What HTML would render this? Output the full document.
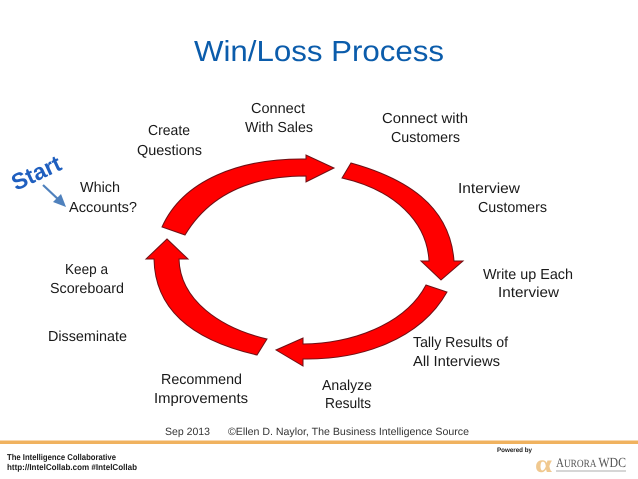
<!DOCTYPE html>
<html><head><meta charset="utf-8"><style>
html,body{margin:0;padding:0;background:#fff;width:638px;height:479px;overflow:hidden}
svg{display:block}
text{font-family:"Liberation Sans",sans-serif;fill:#1a1a1a;text-rendering:geometricPrecision}
.t{font-size:14.5px}
</style></head><body>
<svg width="638" height="479" viewBox="0 0 638 479" xmlns="http://www.w3.org/2000/svg">
<text x="194" y="61" font-size="29" textLength="250" lengthAdjust="spacingAndGlyphs" style="fill:#0b5cab">Win/Loss Process</text>
<g fill="#ff0000" stroke="#6e0f14" stroke-width="1" stroke-linejoin="miter">
<path d="M162 227C183 180 240 158 306 159L306 155L334 168L306 182L306 176C258 176 212 190 185 235Z"/>
<path d="M351 163C405 178 450 205 454 261L463 261L441 280L421 261L429 261C427 222 395 190 342 178Z"/>
<path d="M426 285L447 292C420 340 360 360 303 359L303 366L276 350L303 338L303 344C350 344 405 325 426 285Z"/>
<path d="M267 339L257 355C200 342 155 315 154 259L146 259L167 239L188 259L179 259C180 300 220 328 267 339Z"/>
</g>
<g>
<text class="t" x="251" y="113" textLength="54" lengthAdjust="spacingAndGlyphs">Connect</text>
<text class="t" x="245" y="132" textLength="68" lengthAdjust="spacingAndGlyphs">With Sales</text>
<text class="t" x="148" y="135" textLength="42" lengthAdjust="spacingAndGlyphs">Create</text>
<text class="t" x="137" y="155" textLength="65" lengthAdjust="spacingAndGlyphs">Questions</text>
<text class="t" x="382" y="123" textLength="86" lengthAdjust="spacingAndGlyphs">Connect with</text>
<text class="t" x="391" y="142" textLength="69" lengthAdjust="spacingAndGlyphs">Customers</text>
<text class="t" x="80" y="192" textLength="40" lengthAdjust="spacingAndGlyphs">Which</text>
<text class="t" x="69" y="212" textLength="68" lengthAdjust="spacingAndGlyphs">Accounts?</text>
<text class="t" x="458" y="193" textLength="62" lengthAdjust="spacingAndGlyphs">Interview</text>
<text class="t" x="478" y="212" textLength="69" lengthAdjust="spacingAndGlyphs">Customers</text>
<text class="t" x="65" y="274" textLength="43" lengthAdjust="spacingAndGlyphs">Keep a</text>
<text class="t" x="50" y="293" textLength="74" lengthAdjust="spacingAndGlyphs">Scoreboard</text>
<text class="t" x="483" y="279" textLength="90" lengthAdjust="spacingAndGlyphs">Write up Each</text>
<text class="t" x="498" y="297" textLength="61" lengthAdjust="spacingAndGlyphs">Interview</text>
<text class="t" x="48" y="341" textLength="79" lengthAdjust="spacingAndGlyphs">Disseminate</text>
<text class="t" x="413" y="347" textLength="95" lengthAdjust="spacingAndGlyphs">Tally Results of</text>
<text class="t" x="413" y="366" textLength="87" lengthAdjust="spacingAndGlyphs">All Interviews</text>
<text class="t" x="161" y="384" textLength="81" lengthAdjust="spacingAndGlyphs">Recommend</text>
<text class="t" x="154" y="403" textLength="94" lengthAdjust="spacingAndGlyphs">Improvements</text>
<text class="t" x="322" y="390" textLength="50" lengthAdjust="spacingAndGlyphs">Analyze</text>
<text class="t" x="325" y="408" textLength="46" lengthAdjust="spacingAndGlyphs">Results</text>
</g>
<text transform="translate(16 191) rotate(-25)" font-size="23" font-weight="bold" textLength="52" lengthAdjust="spacingAndGlyphs" style="fill:#1f5fbf">Start</text>
<path d="M43 185L60 201" stroke="#4f81bd" stroke-width="2.2" fill="none"/>
<path d="M66 207L53 202L61 194Z" fill="#4f81bd"/>
<text x="165" y="435" font-size="10.5" textLength="45" lengthAdjust="spacingAndGlyphs" style="fill:#333">Sep 2013</text>
<text x="228" y="435" font-size="10.5" textLength="241" lengthAdjust="spacingAndGlyphs" style="fill:#333">©Ellen D. Naylor, The Business Intelligence Source</text>
<rect x="0" y="440.5" width="638" height="3.5" fill="#f0b25f"/>
<text x="7" y="460" font-size="8.5" font-weight="bold" textLength="109" lengthAdjust="spacingAndGlyphs">The Intelligence Collaborative</text>
<text x="7" y="470" font-size="8.5" font-weight="bold" textLength="130" lengthAdjust="spacingAndGlyphs">http://IntelCollab.com #IntelCollab</text>
<text x="497" y="452" font-size="6.5" font-weight="bold" textLength="35" lengthAdjust="spacingAndGlyphs">Powered by</text>
<text x="535" y="472" font-size="25" font-weight="bold" textLength="17" lengthAdjust="spacingAndGlyphs" style="font-family:'Liberation Serif',serif;fill:#f0c88f">α</text>
<text x="556" y="467" font-size="11" textLength="70" lengthAdjust="spacingAndGlyphs" style="font-family:'Liberation Serif',serif;fill:#555"><tspan font-size="13">A</tspan>URORA <tspan font-size="14">WDC</tspan></text>
<rect x="556" y="470" width="70" height="2" fill="#d6d6d6"/>
</svg>
</body></html>
